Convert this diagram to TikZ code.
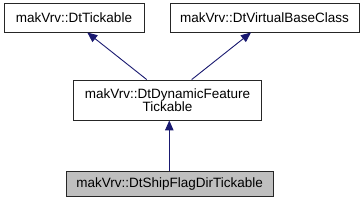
\documentclass[tikz,border=0pt]{standalone}
\usepackage{fontspec}
\setmainfont{Liberation Sans}
\usetikzlibrary{arrows.meta}
\definecolor{edgeblue}{HTML}{191970}
\definecolor{boxgrey}{HTML}{BFBFBF}
\tikzset{
  cls/.style={draw=black!85, line width=0.9pt, fill=white, inner sep=0pt, align=center,
    font=\fontsize{13.5}{11.8}\selectfont},
  inh/.style={draw=edgeblue, line width=0.9pt, -{Triangle[length=10pt,width=8.5pt]}}
}
\begin{document}
\begin{tikzpicture}[x=1pt,y=-1pt]
\useasboundingbox (0,0) rectangle (364,203);
\node[cls, minimum width=140pt, minimum height=28.7pt] (b1) at (74,17.7) {makVrv::DtTickable};
\node[cls, minimum width=189pt, minimum height=28.7pt] (b2) at (264.5,17.7) {makVrv::DtVirtualBaseClass};
\node[cls, minimum width=188.4pt, minimum height=40pt] (b3) at (167.5,100) {makVrv::DtDynamicFeature\\Tickable};
\node[cls, fill=boxgrey, minimum width=207.3pt, minimum height=25.7pt] (b4) at (169.7,183.9) {makVrv::DtShipFlagDirTickable};
\draw[inh] ([xshift=-20.8pt]b3.north) -- ([xshift=13.3pt]b1.south);
\draw[inh] ([xshift=24.2pt]b3.north) -- ([xshift=-13.5pt]b2.south);
\draw[inh] ([xshift=-0.4pt]b4.north) -- ([xshift=-0.4pt]b4.north |- b3.south);
\end{tikzpicture}
\end{document}
